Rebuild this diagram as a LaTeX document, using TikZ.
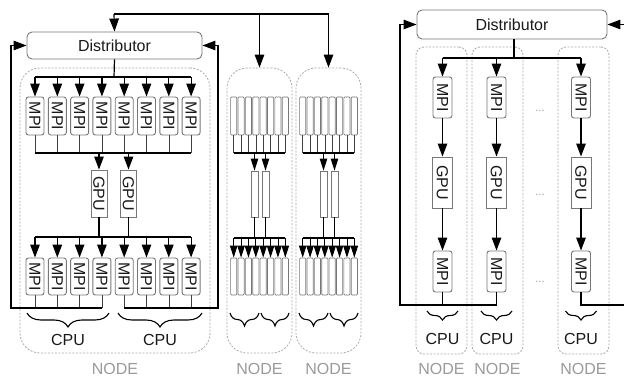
\documentclass[tikz,border=0pt]{standalone}
\usepackage{fontspec}
\setmainfont{Liberation Sans}
\usetikzlibrary{arrows.meta,decorations.pathreplacing,calc}
\newcommand\dgfont{\fontsize{16}{18}\selectfont}
\definecolor{edgegray}{HTML}{777777}
\definecolor{nodegray}{HTML}{ABABAB}
\definecolor{lblgray}{HTML}{9A9A9A}
\tikzset{
  wire/.style={line width=1.2pt, black},
  arr/.style={wire, -{Triangle[length=13pt,width=9.5pt]}},
  sarr/.style={line width=0.9pt, black, -{Triangle[length=12pt,width=7.4pt]}},
  thinwire/.style={line width=0.6pt, black!75},
  box/.style={draw=edgegray, line width=0.9pt, inner sep=0pt, font=\dgfont, text=black!90},
  mpibox/.style={box, rounded corners=2.5pt, minimum width=18pt, minimum height=38pt},
  gpubox/.style={box, minimum width=16pt, minimum height=47pt},
  slimbox/.style={draw=edgegray, line width=0.7pt, rounded corners=1pt, inner sep=0pt, minimum width=6.2pt, minimum height=38pt},
  slimgpu/.style={draw=edgegray, line width=0.7pt, inner sep=0pt, minimum width=7pt, minimum height=46pt},
  distbox/.style={box, rounded corners=5pt},
  nodebox/.style={draw=nodegray, dashed, dash pattern=on 2pt off 1.5pt, line width=0.8pt, inner sep=0pt},
  nodelbl/.style={font=\dgfont, text=lblgray, inner sep=0pt},
  cpulbl/.style={font=\dgfont, text=black!90, inner sep=0pt},
  dotlbl/.style={font=\fontsize{11}{12}\selectfont, text=lblgray, inner sep=0pt},
  bracedeco/.style={line width=1.1pt, decorate, decoration={brace, mirror, amplitude=#1}},
}
\begin{document}
\begin{tikzpicture}[x=1pt,y=-1pt]
\useasboundingbox (0,0) rectangle (624,379);

% ---------------- left: one multi-GPU node ----------------
\node[nodebox, rounded corners=20pt, minimum width=190pt, minimum height=285pt] (Lnode) at (115,210.5) {};
\node[nodelbl] (Lnodelbl) at (115,369) {NODE};
\node[distbox, minimum width=175pt, minimum height=27pt] (Ldist) at (114.5,45.5) {Distributor};

\foreach \i in {1,...,8} {
  \pgfmathsetmacro\xx{35+22.3*(\i-1)}
  \node[mpibox] (LU\i) at (\xx,116) {\rotatebox{-90}{MPI}};
  \node[mpibox, minimum height=37pt] (LD\i) at (\xx,276.5) {\rotatebox{-90}{MPI}};
}
\node[gpubox] (LG1) at (99,193.5) {\rotatebox{-90}{GPU}};
\node[gpubox] (LG2) at (128.5,193.5) {\rotatebox{-90}{GPU}};

\coordinate (Lbus1) at (114,77);
\coordinate (Lbus2) at (114,153);
\coordinate (Lbus3) at (114,237);
\coordinate (LfbL) at (11,308);
\coordinate (LfbR) at (218,308);

% distributor to the upper MPI row
\draw[wire] (Ldist.south) -- (Lbus1);
\draw[wire] (LU1.north |- Lbus1) -- (LU8.north |- Lbus1);
\foreach \i in {1,...,8} {
  \draw[arr] (LU\i.north |- Lbus1) -- (LU\i.north);
  \draw[thinwire] (LU\i.south) -- (LU\i.south |- Lbus2);
  \draw[arr] (LD\i.north |- Lbus3) -- (LD\i.north);
}
% MPI processes gathered onto the GPUs
\draw[wire] (LU1.south |- Lbus2) -- (LU8.south |- Lbus2);
\draw[arr] (LG1.north |- Lbus2) -- (LG1.north);
\draw[arr] (LG2.north |- Lbus2) -- (LG2.north);
% GPUs scattered to the lower MPI row
\draw[wire] (LG1.south) -- (LG1.south |- Lbus3);
\draw[wire] (LG2.south) -- (LG2.south |- Lbus3);
\draw[wire] (LD1.north |- Lbus3) -- (LD8.north |- Lbus3);
% results back to the distributor
\foreach \i in {1,...,8} {
  \draw[thinwire] (LD\i.south) -- (LD\i.south |- LfbL);
}
\draw[arr] (LD4.south |- LfbL) -- (LfbL) |- (Ldist.west);
\draw[arr] (LD5.south |- LfbR) -- (LfbR) |- (Ldist.east);

\draw[bracedeco=14pt] (27,313) -- (109,313);
\draw[bracedeco=14pt] (118,313) -- (202,313);
\node[cpulbl] (LcpuA) at (68,340) {CPU};
\node[cpulbl] (LcpuB) at (160,340) {CPU};

% ---------------- middle: two more nodes ----------------
\foreach \k/\dx in {1/0,2/69} {
  \node[nodebox, rounded corners=20pt, minimum width=65pt, minimum height=285pt] (M\k) at (259.5+\dx,210.5) {};
  \node[nodelbl] (M\k lbl) at (259.5+\dx,369) {NODE};
  \foreach \i in {1,...,8} {
    \pgfmathsetmacro\xx{233.7+\dx+7.375*(\i-1)}
    \node[slimbox] (M\k u\i) at (\xx,116) {};
    \node[slimbox, minimum height=37pt] (M\k d\i) at (\xx,276.5) {};
  }
  \node[slimgpu] (M\k g1) at (254.5+\dx,194) {};
  \node[slimgpu] (M\k g2) at (265.5+\dx,194) {};
  \coordinate (M\k busA) at (259.5+\dx,153);
  \coordinate (M\k busB) at (259.5+\dx,238);
  \foreach \i in {1,...,8} {
    \draw[thinwire] (M\k u\i.south) -- (M\k u\i.south |- M\k busA);
    \draw[sarr] (M\k d\i.north |- M\k busB) -- (M\k d\i.north);
  }
  \draw[wire] (M\k u1.south |- M\k busA) -- (M\k u8.south |- M\k busA);
  \draw[sarr] (M\k g1.north |- M\k busA) -- (M\k g1.north);
  \draw[sarr] (M\k g2.north |- M\k busA) -- (M\k g2.north);
  \draw[line width=0.8pt] (M\k g1.south) -- (M\k g1.south |- M\k busB);
  \draw[line width=0.8pt] (M\k g2.south) -- (M\k g2.south |- M\k busB);
  \draw[wire] (M\k d1.north |- M\k busB) -- (M\k d8.north |- M\k busB);
  \draw[bracedeco=13pt] (230+\dx,313) -- (259+\dx,313);
  \draw[bracedeco=13pt] (261+\dx,313) -- (289+\dx,313);
}

% broadcast line over the top
\coordinate (top) at (114,14);
\draw[wire] (top) -- (M2.north |- top);
\draw[arr] (top) -- (Ldist.north);
\draw[arr] (M1.north |- top) -- (M1.north);
\draw[arr] (M2.north |- top) -- (M2.north);

% ---------------- right: single-GPU nodes ----------------
\node[distbox, minimum width=190pt, minimum height=29pt] (Rdist) at (512,24.5) {Distributor};
\foreach \c/\x/\nx in {1/442.5/441.5,2/496.5/497.5,3/581/583.5} {
  \node[nodebox, rounded corners=8pt, minimum width=51pt, minimum height=307pt] (RN\c) at (\nx,200.5) {};
  \node[nodelbl] (RN\c lbl) at (\nx,369) {NODE};
  \node[mpibox, minimum width=19pt, minimum height=41pt] (RU\c) at (\x,97.5) {\rotatebox{-90}{MPI}};
  \node[gpubox, minimum width=20pt, minimum height=51pt] (RG\c) at (\x,182.5) {\rotatebox{-90}{GPU}};
  \node[mpibox, minimum width=19pt, minimum height=41pt] (RD\c) at (\x,271.5) {\rotatebox{-90}{MPI}};
  \draw[arr] (RU\c.south) -- (RG\c.north);
  \draw[arr] (RG\c.south) -- (RD\c.north);
  \draw[bracedeco=9pt] (\x-15.5,311) -- (\x+15.5,311);
  \node[cpulbl] (RC\c) at (\x,339) {CPU};
}
\coordinate (Rbus) at (514,58);
\coordinate (RfbL) at (400,305);
\coordinate (RedgeT) at (624,24.5);
\coordinate (RedgeB) at (624,305);
\draw[wire] (Rdist.south -| Rbus) -- (Rbus);
\draw[wire] (RU1.north |- Rbus) -- (RU3.north |- Rbus);
\foreach \c in {1,2,3} {
  \draw[arr] (RU\c.north |- Rbus) -- (RU\c.north);
}
\draw[wire] (RD1.south) -- (RD1.south |- RfbL);
\draw[arr] (RD2.south) -- (RD2.south |- RfbL) -- (RfbL) |- (Rdist.west);
\draw[wire] (RD3.south) -- (RD3.south |- RedgeB) -- (RedgeB);
\draw[arr] (RedgeT) -- (Rdist.east);

\node[dotlbl] (dotsA) at (540,111) {...};
\node[dotlbl] (dotsB) at (540,195) {...};
\node[dotlbl] (dotsC) at (540,282) {...};
\end{tikzpicture}
\end{document}
